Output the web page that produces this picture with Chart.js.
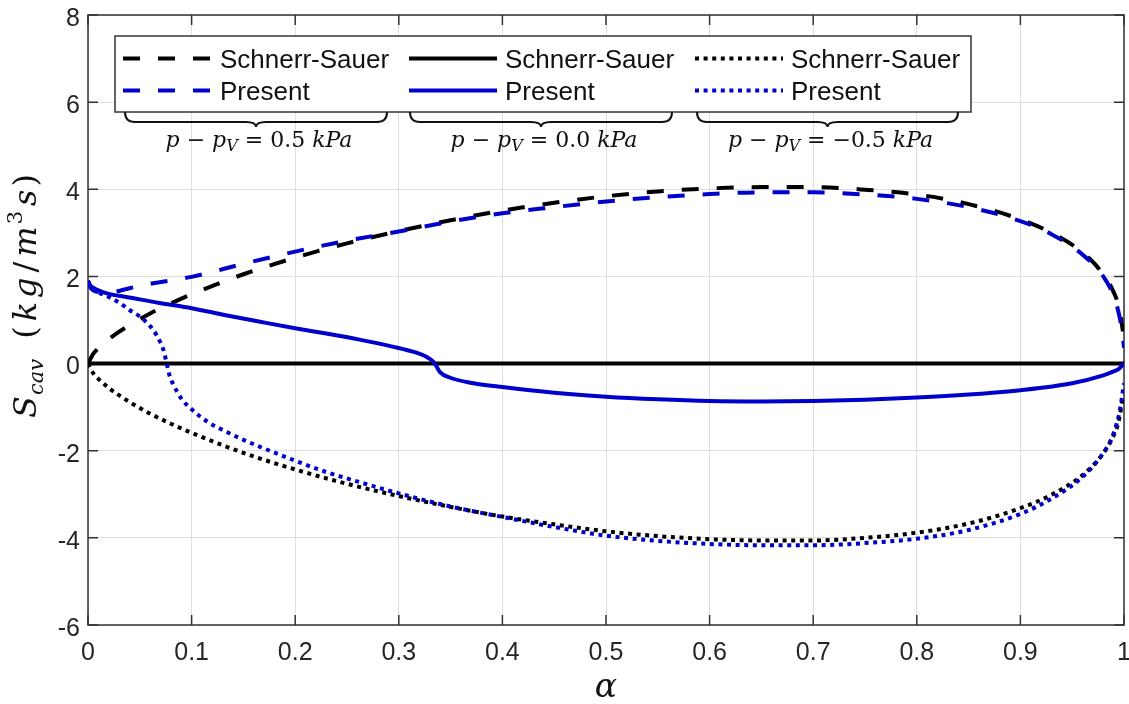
<!DOCTYPE html>
<html>
<head>
<meta charset="utf-8">
<script src="https://cdn.jsdelivr.net/npm/chart.js@4.4.1/dist/chart.umd.min.js"></script>
<style>
  body { margin: 0; background: #fff; }
  #wrap { width: 1129px; height: 704px; }
</style>
</head>
<body>
<div id="wrap"><canvas id="chart" width="1129" height="704"></canvas></div>
<script>
// axis ticks
const xTicks = [0, 0.1, 0.2, 0.3, 0.4, 0.5, 0.6, 0.7, 0.8, 0.9, 1];
const yTicks = [-6, -4, -2, 0, 2, 4, 6, 8];

// Schnerr-Sauer, p - pV = +0.5 / -0.5 kPa
const alphaSS = [0, 0.005, 0.01, 0.02, 0.04, 0.06, 0.08, 0.1, 0.15, 0.2, 0.25, 0.3, 0.35, 0.4, 0.45, 0.5, 0.55, 0.6, 0.65, 0.7, 0.75, 0.8, 0.85, 0.9, 0.93, 0.96, 0.98, 0.99, 0.995, 0.999];
const ssPlus = [0, 0.22, 0.35, 0.56, 0.88, 1.15, 1.38, 1.59, 2.05, 2.43, 2.76, 3.04, 3.29, 3.51, 3.69, 3.84, 3.95, 4.02, 4.05, 4.05, 3.99, 3.88, 3.66, 3.31, 3.00, 2.55, 2.05, 1.64, 1.30, 0.74];
const ssMinus = [0, -0.22, -0.35, -0.56, -0.88, -1.15, -1.38, -1.59, -2.05, -2.43, -2.76, -3.04, -3.29, -3.51, -3.69, -3.85, -3.96, -4.03, -4.06, -4.06, -4.0, -3.88, -3.67, -3.32, -3.01, -2.56, -2.06, -1.65, -1.31, -0.75];
// Schnerr-Sauer, p - pV = 0 kPa
const alphaZeroSS = [0, 1];
const ssZero = [0, 0];

// Present, p - pV = 0.5 kPa
const alphaPresPlus = [0, 0.002, 0.005, 0.01, 0.02, 0.04, 0.06, 0.08, 0.1, 0.15, 0.2, 0.25, 0.3, 0.35, 0.4, 0.45, 0.5, 0.55, 0.6, 0.65, 0.7, 0.75, 0.8, 0.85, 0.9, 0.93, 0.96, 0.98, 0.99, 0.995, 0.999, 1];
const presPlus = [1.9, 1.76, 1.68, 1.64, 1.63, 1.73, 1.83, 1.91, 1.99, 2.29, 2.57, 2.82, 3.03, 3.26, 3.45, 3.59, 3.72, 3.82, 3.89, 3.93, 3.93, 3.88, 3.78, 3.59, 3.27, 2.97, 2.50, 2.00, 1.55, 1.15, 0.60, 0.36];

// Present, p - pV = 0 kPa
const alphaPresZero = [0, 0.002, 0.005, 0.01, 0.02, 0.037, 0.069, 0.1, 0.133, 0.166, 0.2, 0.23, 0.262, 0.294, 0.317, 0.327, 0.333, 0.336, 0.34, 0.349, 0.372, 0.4, 0.45, 0.5, 0.55, 0.6, 0.65, 0.7, 0.75, 0.8, 0.85, 0.9, 0.95, 0.98, 0.99, 0.995, 1];
const presZero = [1.9, 1.8, 1.74, 1.68, 1.6, 1.53, 1.39, 1.27, 1.11, 0.96, 0.81, 0.69, 0.55, 0.39, 0.25, 0.15, 0.05, -0.05, -0.2, -0.32, -0.45, -0.54, -0.67, -0.76, -0.82, -0.86, -0.87, -0.86, -0.83, -0.78, -0.71, -0.61, -0.45, -0.27, -0.18, -0.12, 0];

// Present, p - pV = -0.5 kPa
const alphaPresMinus = [0, 0.002, 0.005, 0.01, 0.02, 0.03, 0.04, 0.05, 0.06, 0.065, 0.07, 0.073, 0.076, 0.079, 0.082, 0.09, 0.1, 0.115, 0.134, 0.15, 0.166, 0.2, 0.23, 0.262, 0.3, 0.35, 0.4, 0.45, 0.5, 0.55, 0.6, 0.65, 0.7, 0.75, 0.8, 0.85, 0.9, 0.93, 0.96, 0.98, 0.99, 0.996, 1];
const presMinus = [1.9, 1.78, 1.7, 1.63, 1.53, 1.4, 1.23, 1.08, 0.86, 0.7, 0.48, 0.3, 0, -0.3, -0.46, -0.8, -1.05, -1.33, -1.57, -1.75, -1.91, -2.23, -2.49, -2.72, -2.98, -3.28, -3.52, -3.75, -3.95, -4.07, -4.14, -4.17, -4.17, -4.12, -4.02, -3.82, -3.45, -3.1, -2.6, -2.05, -1.6, -1.07, -0.45];

const legendRows = ['Schnerr-Sauer', 'Present'];
const pressureLabels = ['0.5', '0.0', '\u22120.5'];

const BLUE = '#0000CD';
const DASH = [17, 18];
const DOT = [4, 4.6];

function pts(xs, ys) {
    return xs.map((x, i) => ({ x: x, y: ys[i] }));
}

function line(data, color, dash, order) {
    return {
        data: data,
        borderColor: color,
        borderWidth: 4,
        borderDash: dash,
        borderCapStyle: 'butt',
        pointRadius: 0,
        cubicInterpolationMode: 'monotone',
        fill: false,
        order: order
    };
}

const datasets = [
    line(pts(alphaPresPlus, presPlus), BLUE, DASH, 0),
    line(pts(alphaPresZero, presZero), BLUE, [], 0),
    line(pts(alphaPresMinus, presMinus), BLUE, DOT, 0),
    line(pts(alphaSS, ssPlus), '#000', DASH, 1),
    line(pts(alphaZeroSS, ssZero), '#000', [], 1),
    line(pts(alphaSS, ssMinus), '#000', DOT, 1)
];

// draws a row of text pieces (mixed fonts / sub- and superscripts) centred on cx
function drawRuns(ctx, runs, cx, y) {
    let total = 0;
    runs.forEach(r => {
        ctx.font = r.font;
        r.w = ctx.measureText(r.text).width + (r.gap || 0);
        total += r.w;
    });
    let x = cx - total / 2;
    runs.forEach(r => {
        ctx.font = r.font;
        ctx.fillText(r.text, x, y + (r.dy || 0));
        x += r.w;
    });
}

function brace(ctx, x1, x2, y0) {
    const xc = (x1 + x2) / 2;
    const y1 = y0 + 10, y2 = y0 + 15;
    ctx.beginPath();
    ctx.moveTo(x1, y0);
    ctx.quadraticCurveTo(x1, y1, x1 + 10, y1);
    ctx.lineTo(xc - 10, y1);
    ctx.quadraticCurveTo(xc, y1, xc, y2);
    ctx.quadraticCurveTo(xc, y1, xc + 10, y1);
    ctx.lineTo(x2 - 10, y1);
    ctx.quadraticCurveTo(x2, y1, x2, y0);
    ctx.stroke();
}

const decor = {
    id: 'decor',
    beforeDatasetsDraw(chart) {
        const { ctx, chartArea: a, scales: { x, y } } = chart;
        ctx.save();
        ctx.strokeStyle = '#333';
        ctx.lineWidth = 1.5;
        ctx.strokeRect(a.left, a.top, a.right - a.left, a.bottom - a.top);
        ctx.beginPath();
        xTicks.forEach(v => {
            const px = x.getPixelForValue(v);
            ctx.moveTo(px, a.bottom); ctx.lineTo(px, a.bottom - 10);
            ctx.moveTo(px, a.top); ctx.lineTo(px, a.top + 10);
        });
        yTicks.forEach(v => {
            const py = y.getPixelForValue(v);
            ctx.moveTo(a.left, py); ctx.lineTo(a.left + 10, py);
            ctx.moveTo(a.right, py); ctx.lineTo(a.right - 10, py);
        });
        ctx.stroke();
        ctx.restore();
    },
    afterDraw(chart) {
        const { ctx, chartArea: a } = chart;
        ctx.save();

        // legend box
        ctx.fillStyle = '#fff';
        ctx.fillRect(115, 36, 856, 76);
        ctx.strokeStyle = '#333';
        ctx.lineWidth = 1.5;
        ctx.strokeRect(115, 36, 856, 76);

        const cols = [
            { x1: 123, x2: 210, tx: 220, dash: DASH },
            { x1: 409, x2: 497, tx: 505, dash: [] },
            { x1: 695, x2: 783, tx: 791, dash: DOT }
        ];
        const rows = [{ y: 58.5, ty: 68, color: '#000' }, { y: 90.5, ty: 100, color: BLUE }];
        cols.forEach(c => {
            rows.forEach((r, i) => {
                ctx.beginPath();
                ctx.setLineDash(c.dash);
                ctx.lineWidth = 4;
                ctx.lineCap = 'butt';
                ctx.strokeStyle = r.color;
                ctx.moveTo(c.x1, r.y);
                ctx.lineTo(c.x2, r.y);
                ctx.stroke();
                ctx.setLineDash([]);
                ctx.fillStyle = '#111';
                ctx.font = '26px "Liberation Sans", Arial, sans-serif';
                ctx.textAlign = 'left';
                ctx.textBaseline = 'alphabetic';
                ctx.fillText(legendRows[i], c.tx, r.ty);
            });
        });

        // braces + pressure labels
        const braces = [[125, 387], [410, 672], [697, 958]];
        ctx.strokeStyle = '#111';
        ctx.lineWidth = 2;
        ctx.fillStyle = '#111';
        const it = 'italic 22px "DejaVu Serif", serif';
        const up = '22px "DejaVu Serif", serif';
        const sub = 'italic 16px "DejaVu Serif", serif';
        braces.forEach((b, i) => {
            brace(ctx, b[0], b[1], 112);
            drawRuns(ctx, [
                { text: 'p', font: it },
                { text: ' \u2212 ', font: up },
                { text: 'p', font: it },
                { text: 'V', font: sub, dy: 4 },
                { text: ' = ' + pressureLabels[i] + ' ', font: up },
                { text: 'kPa', font: it }
            ], (b[0] + b[1]) / 2 + 3, 147);
        });

        // y axis title
        ctx.save();
        ctx.translate(36, 296);
        ctx.rotate(-Math.PI / 2);
        const yf = 'italic 32px "DejaVu Serif", serif';
        const yu = '32px "DejaVu Serif", serif';
        const ys = 'italic 21px "DejaVu Serif", serif';
        drawRuns(ctx, [
            { text: 'S', font: yf, gap: 1 },
            { text: 'cav', font: ys, dy: 7, gap: 20 },
            { text: '(', font: yu, gap: 5 },
            { text: 'k', font: yf, gap: 4 },
            { text: 'g', font: yf, gap: 5 },
            { text: '/', font: yu, gap: 5 },
            { text: 'm', font: yf, gap: 2 },
            { text: '3', font: '21px "DejaVu Serif", serif', dy: -14, gap: 5 },
            { text: 's', font: yf, gap: 3 },
            { text: ')', font: yu }
        ], 0, 0);
        ctx.restore();

        // x axis title
        ctx.font = 'italic 33px "DejaVu Serif", serif';
        ctx.textAlign = 'center';
        ctx.fillText('\u03b1', (a.left + a.right) / 2, 697);
        ctx.restore();
    }
};

const ctx = document.getElementById('chart');

const options = {
    responsive: false,
    animation: false,
    layout: { padding: { top: 15, right: 5, left: 0, bottom: 0 } },
    plugins: {
        legend: { display: false },
        tooltip: { enabled: false }
    },
    scales: {
        x: {
            type: 'linear',
            min: 0,
            max: 1,
            afterBuildTicks: s => { s.ticks = xTicks.map(v => ({ value: v })); },
            afterFit: s => { s.height = 79; s.paddingLeft = 0; s.paddingRight = 0; },
            ticks: {
                color: '#262626',
                padding: 13,
                maxRotation: 0,
                font: { family: '"Liberation Sans", Arial, sans-serif', size: 25 },
                callback: v => String(Number(v.toFixed(1)))
            },
            grid: { color: '#dedede', lineWidth: 1, drawTicks: false },
            border: { display: false }
        },
        y: {
            min: -6,
            max: 8,
            afterBuildTicks: s => { s.ticks = yTicks.map(v => ({ value: v })); },
            afterFit: s => { s.width = 88; s.paddingTop = 0; s.paddingBottom = 0; },
            ticks: {
                color: '#262626',
                padding: 8,
                labelOffset: 4,
                font: { family: '"Liberation Sans", Arial, sans-serif', size: 25 }
            },
            grid: { color: '#dedede', lineWidth: 1, drawTicks: false },
            border: { display: false }
        }
    }
};

new Chart(ctx, {
    type: 'line',
    data: { datasets: datasets },
    options: options,
    plugins: [decor]
});
</script>
</body>
</html>
